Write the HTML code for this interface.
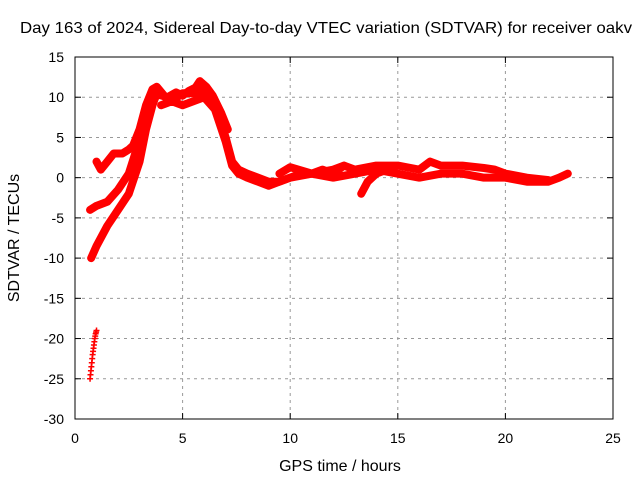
<!DOCTYPE html>
<html><head><meta charset="utf-8"><style>
body{margin:0;background:#fff}
svg{display:block;font-family:"Liberation Sans",sans-serif}
</style></head><body>
<svg id="chart" width="640" height="480">
<text x="326" y="33" font-size="16" text-anchor="middle" textLength="612" lengthAdjust="spacingAndGlyphs">Day 163 of 2024, Sidereal Day-to-day VTEC variation (SDTVAR) for receiver oakv</text>
<text x="340" y="471" font-size="16" text-anchor="middle">GPS time / hours</text>
<text transform="translate(19,238) rotate(-90)" font-size="16" text-anchor="middle">SDTVAR / TECUs</text>
<g id="grid"></g><g id="data"></g>
<rect x="75" y="57" width="538" height="362" fill="none" stroke="#000"/>
<g id="ticks"></g>
</svg>
<script>
const xTicks=[0,5,10,15,20,25];
const yTicks=[15,10,5,0,-5,-10,-15,-20,-25,-30];
const trackAx=[0.75,1,1.5,2,2.5,3,3.3,3.6,3.8];
const trackAy=[-10,-8.5,-6,-4,-2,2,6,9,10.5];
const trackBx=[0.7,1,1.5,2,2.5,2.8,3.1,3.4,3.7,4];
const trackBy=[-4,-3.5,-3,-1.5,0.5,3,5,8,10,10.5];
const trackCx=[1,1.2,1.5,1.8,2.2,2.5,2.7,3,3.3,3.6,3.8,4.2,4.5,5,5.5,6,6.5,7,7.3,7.6,8,8.5,9,9.5,10,10.5,11,11.5,12,12.5];
const trackCy=[2,1,2,3,3,3.5,4,6,9,11,11.3,10,9.5,10.5,10.5,11,9,5,2,1,0.5,0,-0.5,-0.5,0,0.5,0.5,1,0.5,1.5];
const trackDx=[4,4.5,5,5.5,6,6.5,7,7.3,7.6,8,8.5,9,9.5,10,11,12,13,14,15,16,17,18,19,20,21,22,22.5,22.9];
const trackDy=[9,9.5,9,9.5,10,8.5,4.5,1.5,0.5,0,-0.5,-1,-0.5,0,0.5,0,0.5,1,0.5,0,0.5,0.5,0,0,-0.5,-0.5,0,0.5];
const trackEx=[9.5,10,11,12,12.5,13,14,15,16,16.5,17,18,19,19.5,20,21,22];
const trackEy=[0.5,1.3,0.5,1,1.5,1,1.5,1.5,1,2,1.5,1.5,1.2,1,0.5,0,-0.3];
const trackFx=[13.3,13.6,14,14.5];
const trackFy=[-2,-0.5,0.5,1];
const trackGx=[3.9,4.3,4.7,5,5.3,5.6,5.8,6.1,6.4,6.8,7.1];
const trackGy=[10.3,10,10.6,10.2,10.8,11.2,12,11.3,10.2,8,6];
const crossX=[0.7,0.72,0.74,0.76,0.78,0.8,0.82,0.84,0.86,0.88,0.9,0.92,0.94,0.96,0.98,1.0];
const crossY=[-25,-24.5,-24,-23.5,-23,-22.5,-22,-21.6,-21.2,-20.8,-20.4,-20,-19.7,-19.4,-19.2,-19];
const X=v=>75+v*538/25, Y=v=>57+(15-v)*362/45;
const NS="http://www.w3.org/2000/svg";
const grid=document.getElementById('grid'),ticks=document.getElementById('ticks'),data=document.getElementById('data');
function mk(tag,attrs,parent){const e=document.createElementNS(NS,tag);for(const k in attrs)e.setAttribute(k,attrs[k]);parent.appendChild(e);return e;}
xTicks.forEach(t=>{
  if(t>0&&t<25){const g=mk('line',{x1:X(t),x2:X(t),y1:57,y2:419,stroke:'#999','stroke-dasharray':'3,4'},grid);
  
  }
  mk('line',{x1:X(t),x2:X(t),y1:419,y2:413,stroke:'#000'},ticks);
  mk('line',{x1:X(t),x2:X(t),y1:57,y2:63,stroke:'#000'},ticks);
  const l=mk('text',{x:X(t),y:443,'font-size':14,'text-anchor':'middle'},ticks);l.textContent=t;
  
  
});
yTicks.forEach(t=>{
  if(t<15&&t>-30){const g=mk('line',{x1:75,x2:613,y1:Y(t),y2:Y(t),stroke:'#999','stroke-dasharray':'3,4'},grid);
  
  }
  mk('line',{x1:75,x2:81,y1:Y(t),y2:Y(t),stroke:'#000'},ticks);
  mk('line',{x1:613,x2:607,y1:Y(t),y2:Y(t),stroke:'#000'},ticks);
  const l=mk('text',{x:64,y:Y(t)+5,'font-size':14,'text-anchor':'end'},ticks);l.textContent=t;
  
  
});
[[trackAx,trackAy],[trackBx,trackBy],[trackCx,trackCy],[trackDx,trackDy],[trackEx,trackEy],[trackFx,trackFy],[trackGx,trackGy]].forEach(([xs,ys])=>{
  const p=mk('polyline',{points:xs.map((x,i)=>X(x)+','+Y(ys[i])).join(' '),fill:'none',stroke:'#f00','stroke-width':8,'stroke-linejoin':'round','stroke-linecap':'round'},data);
  
  
});
crossX.forEach((x,i)=>{
  const cx=X(x),cy=Y(crossY[i]);
  const c=mk('path',{d:`M${cx-3},${cy}H${cx+3}M${cx},${cy-3}V${cy+3}`,stroke:'#f00','stroke-width':1.5},data);
  
  
});
</script>
</body></html>
